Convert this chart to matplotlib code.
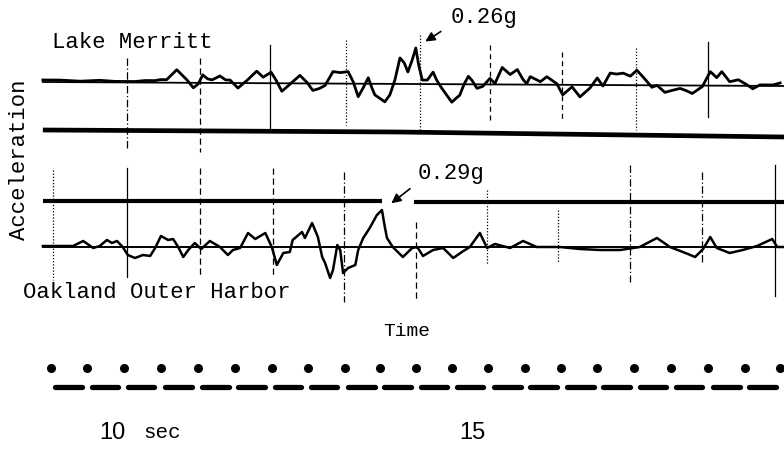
import numpy as np
import matplotlib
matplotlib.use("Agg")
import matplotlib.pyplot as plt

# time axis in seconds, vertical axis in record units (rows, downwards)
t_lo, t_hi = 8.375, 19.264

# Lake Merritt trace: time (s) and deflection from baseline
lm_t = [8.97, 9.21, 9.49, 9.76, 9.97, 10.08, 10.25, 10.39, 10.53, 10.60,
        10.69, 10.83, 10.97, 11.06, 11.13, 11.19, 11.26, 11.32, 11.43, 11.51,
        11.57, 11.68, 11.81, 11.94, 12.03, 12.14, 12.21, 12.29, 12.40, 12.54,
        12.64, 12.72, 12.81, 12.89, 13.00, 13.10, 13.21, 13.28, 13.35, 13.42,
        13.49, 13.54, 13.58, 13.72, 13.79, 13.86, 13.93, 13.99, 14.04, 14.10,
        14.15, 14.19, 14.24, 14.31, 14.39, 14.44, 14.51, 14.58, 14.65, 14.71,
        14.76, 14.82, 14.88, 14.93, 15.00, 15.08, 15.18, 15.25, 15.35, 15.46,
        15.56, 15.64, 15.69, 15.74, 15.88, 15.97, 16.11, 16.19, 16.32, 16.43,
        16.57, 16.67, 16.75, 16.85, 16.94, 17.03, 17.13, 17.22, 17.31, 17.43,
        17.50, 17.61, 17.71, 17.82, 17.90, 17.99, 18.13, 18.24, 18.33, 18.40,
        18.51, 18.63, 18.75, 18.83, 18.93, 19.11, 19.21]
lm_amp = [2, 2, 1, 2, 1, 1, 1, 2, 2, 3,
          3, 13, 3, -5, -1, 8, 4, 3, 7, 3,
          3, -5, 3, 12, 6, 11, 3, -8, -1, 8,
          1, -7, -5, -2, 12, 11, 12, 2, -13, -4,
          6, -4, -11, -18, -11, 4, 26, 21, 12, 24,
          36, 19, 4, 4, 12, 4, -4, -11, -18, -14,
          -11, 0, 8, 4, -4, -2, 6, 1, 17, 10,
          15, 5, 1, 8, 3, 8, 1, -10, -2, -12,
          -3, 7, -1, 12, 11, 12, 9, 15, 8, -2,
          0, -7, -5, -3, -5, -8, -1, 14, 8, 14,
          4, 6, 1, -3, 1, 1, 3]
lm_base_t = [8.97, 19.264]
lm_base_y = [82, 86]
lm_ref_t = [8.97, 13.9, 19.264]
lm_ref_y = [130, 132, 137]

# Oakland Outer Harbor trace
oh_t = [8.97, 9.21, 9.39, 9.53, 9.67, 9.76, 9.86, 9.93, 10.00, 10.08,
        10.15, 10.25, 10.36, 10.46, 10.53, 10.61, 10.71, 10.78, 10.85, 10.92,
        10.99, 11.08, 11.17, 11.29, 11.43, 11.54, 11.61, 11.71, 11.82, 11.92,
        12.06, 12.15, 12.22, 12.31, 12.40, 12.44, 12.57, 12.61, 12.71, 12.79,
        12.85, 12.89, 12.96, 13.00, 13.06, 13.10, 13.14, 13.21, 13.31, 13.35,
        13.42, 13.51, 13.61, 13.68, 13.72, 13.75, 13.83, 13.97, 14.10, 14.17,
        14.25, 14.39, 14.53, 14.67, 14.79, 14.90, 15.04, 15.14, 15.25, 15.46,
        15.64, 15.83, 16.15, 16.43, 16.71, 16.99, 17.26, 17.50, 17.68, 17.93,
        18.03, 18.14, 18.24, 18.33, 18.51, 18.69, 18.89, 19.10, 19.17, 19.26]
oh_amp = [1, 1, 1, 6, -1, 1, 7, 4, 6, 0,
          -8, -11, -8, -9, -1, 11, 7, 8, 0, -10,
          -3, 4, -2, 6, 0, -8, -3, -1, 14, 8,
          14, 0, -18, -6, -5, 7, 15, 9, 24, 10,
          -10, -16, -31, -23, 2, -3, -26, -21, -18, -3,
          9, 19, 32, 37, 20, 9, 0, -10, -1, 0,
          -9, -3, -1, -11, -5, 0, 14, -1, 3, -1,
          6, 0, 0, -2, -3, -3, 0, 9, 0, -7,
          -10, -2, 10, -1, -6, -3, 1, 8, 0, 0]
oh_base = 247
oh_ref_segments = [(8.97, 13.68, 201), (14.13, 19.264, 202)]

# one-second timing marks: time, top, bottom
lm_marks_t = [10.14, 11.15, 12.13, 13.18, 14.21, 15.18, 16.18, 17.21, 18.21]
lm_marks_top = [58, 58, 45, 40, 35, 45, 52, 48, 42]
lm_marks_bot = [150, 152, 130, 125, 133, 120, 120, 130, 117]
oh_marks_t = [9.11, 10.14, 11.15, 12.17, 13.15, 14.15, 15.14, 16.13, 17.13, 18.13, 19.14]
oh_marks_top = [170, 168, 168, 168, 172, 222, 190, 210, 165, 172, 165]
oh_marks_bot = [280, 277, 278, 276, 302, 302, 265, 262, 282, 262, 296]

# timing strips (half-second)
dot_t = [9.08, 9.58, 10.10, 10.61, 11.13, 11.64, 12.15, 12.65, 13.17, 13.65,
         14.15, 14.65, 15.15, 15.67, 16.17, 16.67, 17.18, 17.69, 18.21, 18.72, 19.21]
dash_t = [9.14, 9.65, 10.15, 10.67, 11.18, 11.68, 12.19, 12.69, 13.21, 13.71,
          14.22, 14.72, 15.24, 15.74, 16.25, 16.75, 17.26, 17.76, 18.28, 18.78]
dash_len = 0.37

lm_mark_styles = [(0, (6, 2, 1, 2)), (0, (5, 3)), '-', (0, (1, 1.5)), (0, (1, 1.5)),
                  (0, (4, 3)), (0, (4, 3)), (0, (1, 1.5)), '-']
oh_mark_styles = [(0, (1, 1.5)), '-', (0, (5, 3)), (0, (5, 3)), (0, (6, 2, 1, 2)),
                  (0, (5, 3)), (0, (1, 1.5)), (0, (1, 1.5)), (0, (6, 2, 1, 2)),
                  (0, (6, 2, 1, 2)), '-']

mono = 'Liberation Mono'

fig = plt.figure(figsize=(7.84, 4.49), dpi=100)
ax = fig.add_axes([0, 0, 1, 1])
ax.set_xlim(t_lo, t_hi)
ax.set_ylim(449, 0)
ax.axis('off')

# Lake Merritt
lm_t = np.array(lm_t)
lm_base = np.interp(lm_t, lm_base_t, lm_base_y)
ax.plot(lm_base_t, lm_base_y, color='black', lw=1.3)
ax.plot(lm_ref_t, lm_ref_y, color='black', lw=3.4, solid_capstyle='butt')
ax.plot(lm_t, lm_base - np.array(lm_amp), color='black', lw=2.0, solid_joinstyle='round')
for t, y0, y1, ls in zip(lm_marks_t, lm_marks_top, lm_marks_bot, lm_mark_styles):
    ax.plot([t, t], [y0, y1], color='black', lw=0.9, ls=ls)

# Oakland Outer Harbor
ax.plot([oh_t[0], t_hi], [oh_base, oh_base], color='black', lw=1.4)
for t0, t1, y in oh_ref_segments:
    ax.plot([t0, t1], [y, y], color='black', lw=3.0, solid_capstyle='butt')
ax.plot(oh_t, oh_base - np.array(oh_amp), color='black', lw=1.8, solid_joinstyle='round')
for t, y0, y1, ls in zip(oh_marks_t, oh_marks_top, oh_marks_bot, oh_mark_styles):
    ax.plot([t, t], [y0, y1], color='black', lw=0.9, ls=ls)

# timing strips
ax.plot(dot_t, [368] * len(dot_t), 'o', color='black', ms=6.5, mec='none')
for t in dash_t:
    ax.plot([t, t + dash_len], [387, 387], color='black', lw=3.8, solid_capstyle='round')

# labels
ax.text(9.10, 43, 'Lake Merritt', family=mono, fontsize=16, va='center', ha='left')
ax.text(8.69, 292, 'Oakland Outer Harbor', family=mono, fontsize=16, va='center', ha='left')
ax.text(8.64, 160, 'Acceleration', family=mono, fontsize=16, va='center', ha='center',
        rotation=90)
ax.text(14.03, 332, 'Time', family=mono, fontsize=14, va='center', ha='center')

ax.text(14.63, 18, '0.26g', family=mono, fontsize=16, va='center', ha='left')
ax.annotate('', xy=(14.25, 43), xytext=(14.53, 30),
            arrowprops=dict(arrowstyle='-|>', color='black', lw=1.2, mutation_scale=14))
ax.text(14.18, 173, '0.29g', family=mono, fontsize=16, va='center', ha='left')
ax.annotate('', xy=(13.78, 205), xytext=(14.10, 187),
            arrowprops=dict(arrowstyle='-|>', color='black', lw=1.2, mutation_scale=14))

ax.text(9.94, 433, '10', family='Liberation Sans', fontsize=17, va='center', ha='center')
ax.text(10.36, 433, 'sec', family=mono, fontsize=15, va='center', ha='left')
ax.text(14.93, 433, '15', family='Liberation Sans', fontsize=17, va='center', ha='center')

fig.savefig('out.png', dpi=100)
